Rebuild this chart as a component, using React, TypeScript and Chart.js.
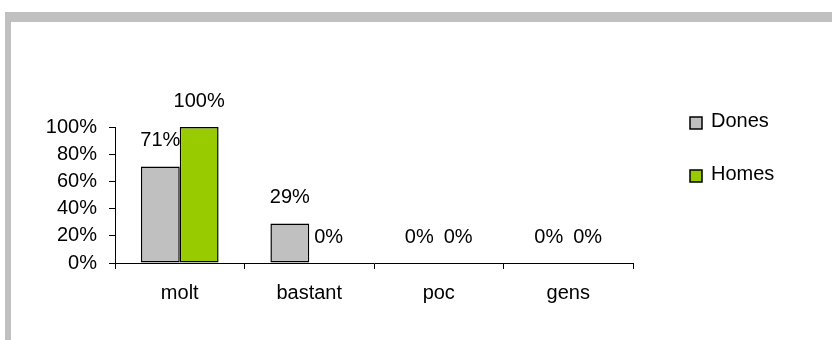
import React, { useEffect, useRef } from "react";
import { Chart, registerables } from "chart.js";

Chart.register(...registerables);

const categories = ["molt", "bastant", "poc", "gens"];
const seriesNames = ["Dones", "Homes"];
const donesValues = [71, 29, 0, 0];
const homesValues = [100, 0, 0, 0];
const seriesColors = ["#c0c0c0", "#99cc00"];
const yTicks = [0, 20, 40, 60, 80, 100];

const FONT = "'Liberation Sans', Arial, sans-serif";

// Value labels above every bar, e.g. "71%"
const valueLabels = {
  id: "valueLabels",
  afterDatasetsDraw(chart: any) {
    const { ctx } = chart;
    ctx.save();
    ctx.font = `20px ${FONT}`;
    ctx.fillStyle = "#000";
    ctx.textAlign = "center";
    ctx.textBaseline = "middle";
    chart.data.datasets.forEach((ds: any, i: number) => {
      const meta = chart.getDatasetMeta(i);
      meta.data.forEach((el: any, j: number) => {
        ctx.fillText(`${ds.data[j]}%`, el.x, el.y - 26);
      });
    });
    ctx.restore();
  },
};

// Legend to the right of the plot: square swatch with a black outline and the series name
const sideLegend = {
  id: "sideLegend",
  afterDraw(chart: any) {
    const { ctx, chartArea } = chart;
    ctx.save();
    ctx.font = `20px ${FONT}`;
    ctx.textAlign = "left";
    ctx.textBaseline = "middle";
    const x = chartArea.right + 57;
    chart.data.datasets.forEach((ds: any, i: number) => {
      const cy = chartArea.top - 4 + i * 53;
      ctx.fillStyle = ds.backgroundColor;
      ctx.fillRect(x, cy - 6, 12, 12);
      ctx.strokeStyle = "#000";
      ctx.lineWidth = 1.5;
      ctx.strokeRect(x, cy - 6, 12, 12);
      ctx.fillStyle = "#000";
      ctx.fillText(ds.label, x + 21, cy - 2);
    });
    ctx.restore();
  },
};

export default function App() {
  const canvasRef = useRef<HTMLCanvasElement | null>(null);

  useEffect(() => {
    if (!canvasRef.current) return;
    const chart = new Chart(canvasRef.current, {
      type: "bar",
      data: {
        labels: categories,
        datasets: [
          {
            label: seriesNames[0],
            data: donesValues,
            backgroundColor: seriesColors[0],
            borderColor: "#000",
            borderWidth: 1.5,
            borderSkipped: false,
            categoryPercentage: 0.6,
            barPercentage: 1,
          },
          {
            label: seriesNames[1],
            data: homesValues,
            backgroundColor: seriesColors[1],
            borderColor: "#000",
            borderWidth: 1.5,
            borderSkipped: false,
            categoryPercentage: 0.6,
            barPercentage: 1,
          },
        ],
      },
      options: {
        animation: false,
        responsive: true,
        maintainAspectRatio: false,
        layout: { padding: { top: 105, right: 199, left: 0, bottom: 0 } },
        plugins: {
          legend: { display: false },
          tooltip: { enabled: false },
        },
        scales: {
          x: {
            grid: {
              display: true,
              offset: true,
              drawOnChartArea: false,
              drawTicks: true,
              tickLength: 6,
              color: "#000",
            },
            border: { display: true, color: "#000", width: 1 },
            ticks: {
              color: "#000",
              font: { family: FONT, size: 20 },
              padding: 12,
              maxRotation: 0,
            },
            afterFit(scale: any) {
              scale.height = 77;
            },
          },
          y: {
            min: 0,
            max: 100,
            afterBuildTicks(scale: any) {
              scale.ticks = yTicks.map((v) => ({ value: v }));
            },
            grid: {
              display: true,
              drawOnChartArea: false,
              drawTicks: true,
              tickLength: 6,
              color: "#000",
            },
            border: { display: true, color: "#000", width: 1 },
            ticks: {
              color: "#000",
              font: { family: FONT, size: 20 },
              padding: 12,
              callback: (v: any) => `${v}%`,
            },
            afterFit(scale: any) {
              scale.width = 104;
            },
          },
        },
      },
      plugins: [valueLabels, sideLegend],
    });
    return () => chart.destroy();
  }, []);

  return (
    <div
      style={{
        position: "absolute",
        left: 0,
        top: 0,
        width: 832,
        height: 340,
        background: "#fff",
        overflow: "hidden",
      }}
    >
      <div
        style={{
          position: "absolute",
          left: 5,
          top: 12,
          width: 827,
          height: 328,
          boxSizing: "border-box",
          borderTop: "10px solid #c0c0c0",
          borderLeft: "6px solid #c0c0c0",
        }}
      />
      <div style={{ position: "absolute", left: 11, top: 22, width: 821, height: 318 }}>
        <canvas ref={canvasRef} />
      </div>
    </div>
  );
}
